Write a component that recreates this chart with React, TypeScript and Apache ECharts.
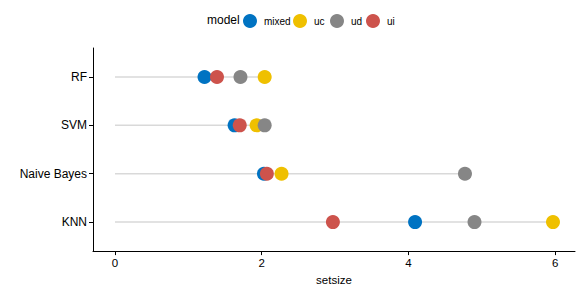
import React, { useEffect, useRef } from "react";
import * as echarts from "echarts";

const categories = ["KNN", "Naive Bayes", "SVM", "RF"];
const models = ["mixed", "uc", "ud", "ui"];
const colors = ["#0073C2", "#EFC000", "#868686", "#CD534C"];
// values per model, in order of categories
const mixedVals = [4.09, 2.03, 1.63, 1.22];
const ucVals = [5.97, 2.27, 1.93, 2.04];
const udVals = [4.9, 4.77, 2.04, 1.71];
const uiVals = [2.97, 2.07, 1.7, 1.39];
const xTicks = [0, 2, 4, 6];

const FONT = "Liberation Sans, Arial, sans-serif";
const legendLefts = [243, 293, 330, 366];

export default function App() {
  const ref = useRef<HTMLDivElement>(null);
  useEffect(() => {
    if (!ref.current) return;
    const chart = echarts.init(ref.current, null, { renderer: "svg" });
    const all = [mixedVals, ucVals, udVals, uiVals];
    const maxVals = categories.map((_, i) => Math.max(...all.map((a) => a[i])));
    const segData = categories.map((_, i) => [0, i, maxVals[i]]);
    const scatter = models.map((m, k) => ({
      name: m,
      type: "scatter",
      symbol: "circle",
      symbolSize: 14,
      itemStyle: { color: colors[k], opacity: 1 },
      data: all[k].map((v, i) => [v, i]),
      z: 3 + k,
    }));
    const legends = models.map((m, k) => ({
      left: legendLefts[k],
      top: 14,
      padding: 0,
      icon: "circle",
      itemWidth: 14,
      itemHeight: 14,
      data: [m],
      textStyle: { fontSize: 10, color: "#000", fontFamily: FONT, padding: [0, 0, 0, 2] },
    }));
    chart.setOption({
      animation: false,
      textStyle: { fontFamily: FONT },
      grid: { left: 93, right: 6, top: 48, bottom: 38 },
      graphic: [
        {
          type: "text",
          left: 207,
          top: 14,
          style: { text: "model", fontSize: 12, fill: "#000", fontFamily: FONT },
        },
      ],
      legend: legends,
      xAxis: {
        type: "value",
        min: -0.3,
        max: 6.27,
        name: "setsize",
        nameLocation: "middle",
        nameGap: 20,
        nameTextStyle: { fontSize: 11.5, color: "#000", fontFamily: FONT },
        splitLine: { show: false },
        axisLine: { show: true, onZero: false, lineStyle: { color: "#000", width: 1 } },
        axisTick: { show: true, length: 4, customValues: xTicks, lineStyle: { color: "#000" } },
        axisLabel: { customValues: xTicks, fontSize: 11.5, color: "#000", margin: 6, fontFamily: FONT },
      },
      yAxis: {
        type: "value",
        min: -0.6,
        max: 3.6,
        splitLine: { show: false },
        axisLine: { show: true, onZero: false, lineStyle: { color: "#000", width: 1 } },
        axisTick: { show: true, length: 4, customValues: [0, 1, 2, 3], lineStyle: { color: "#000" } },
        axisLabel: {
          customValues: [0, 1, 2, 3],
          formatter: (v: number) => categories[Math.round(v)] ?? "",
          fontSize: 12,
          color: "#000",
          margin: 6,
          fontFamily: FONT,
        },
      },
      series: [
        {
          type: "custom",
          silent: true,
          z: 1,
          data: segData,
          renderItem: (params: any, api: any) => {
            const p0 = api.coord([api.value(0), api.value(1)]);
            const p1 = api.coord([api.value(2), api.value(1)]);
            return {
              type: "line",
              shape: { x1: p0[0], y1: p0[1], x2: p1[0], y2: p1[1] },
              style: { stroke: "#d9d9d9", lineWidth: 1.5 },
            };
          },
        },
        ...scatter,
      ],
    });
    return () => chart.dispose();
  }, []);
  return <div ref={ref} style={{ width: 581, height: 291, position: "absolute", left: 0, top: 0 }} />;
}
